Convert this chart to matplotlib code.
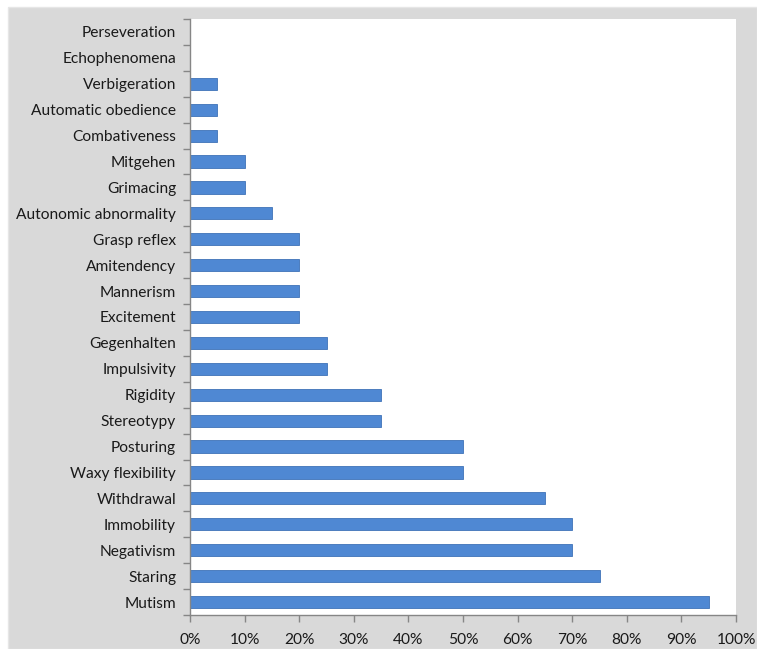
import matplotlib
matplotlib.use("Agg")
from matplotlib import pyplot as plt
from matplotlib.patches import Rectangle
from matplotlib.ticker import FixedLocator, PercentFormatter
import numpy as np

plt.rcParams['font.family'] = ['Lato', 'DejaVu Sans']

symptoms = ['Mutism', 'Staring', 'Negativism', 'Immobility', 'Withdrawal',
            'Waxy flexibility', 'Posturing', 'Stereotypy', 'Rigidity',
            'Impulsivity', 'Gegenhalten', 'Excitement', 'Mannerism',
            'Amitendency', 'Grasp reflex', 'Autonomic abnormality',
            'Grimacing', 'Mitgehen', 'Combativeness', 'Automatic obedience',
            'Verbigeration', 'Echophenomena', 'Perseveration']
percent = [95, 75, 70, 70, 65, 50, 50, 35, 35, 25, 25, 20, 20, 20, 20, 15,
           10, 10, 5, 5, 5, 0, 0]

fig = plt.figure(figsize=(7.57, 6.49), dpi=100)
# grey chart-area background
fig.patches.append(Rectangle((8 / 757, 0), 1 - 8 / 757, 1 - 7 / 649,
                             transform=fig.transFigure, facecolor='#d9d9d9',
                             edgecolor='#e6e6e6', zorder=-10))

ax = fig.add_axes([190 / 757, 1 - 615 / 649, 546 / 757, 596 / 649])
ax.set_facecolor('white')

y = np.arange(len(symptoms))
ax.barh(y, percent, height=0.47, color='#4f88d3', edgecolor='#3f72b8',
        linewidth=0.6)

ax.set_xlim(0, 100)
ax.set_ylim(-0.5, len(symptoms) - 0.5)
ax.set_xticks(range(0, 101, 10))
ax.xaxis.set_major_formatter(PercentFormatter(decimals=0))
ax.set_yticks(y)
ax.set_yticklabels(symptoms)
ax.yaxis.set_minor_locator(FixedLocator(np.arange(-0.5, len(symptoms), 1)))

ax.tick_params(axis='y', which='major', length=0, pad=10, labelsize=11.2,
               labelcolor='#1a1a1a')
ax.tick_params(axis='y', which='minor', length=5, color='#868686', width=1)
ax.tick_params(axis='x', which='major', length=5, color='#868686', width=1,
               pad=8, labelsize=11.2, labelcolor='#1a1a1a')

for side in ['top', 'right']:
    ax.spines[side].set_visible(False)
for side in ['left', 'bottom']:
    ax.spines[side].set_color('#868686')
    ax.spines[side].set_linewidth(1)

plt.savefig('out.png', dpi=100)
